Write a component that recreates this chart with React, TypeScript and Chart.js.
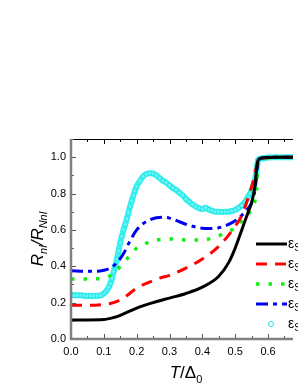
import React, { useEffect, useRef } from "react";
import { Chart, registerables } from "chart.js";

Chart.register(...registerables);

const xTicks = [0, 0.1, 0.2, 0.3, 0.4, 0.5, 0.6];
const yTicks = [0, 0.2, 0.4, 0.6, 0.8, 1.0];

const tBlack = [0, 0.05, 0.1, 0.13, 0.15, 0.2, 0.25, 0.3, 0.35, 0.4, 0.45, 0.48, 0.5, 0.52, 0.54, 0.55, 0.56, 0.565, 0.57, 0.58, 0.62, 0.68];
const rBlack = [0.105, 0.105, 0.107, 0.118, 0.13, 0.17, 0.2, 0.225, 0.25, 0.285, 0.345, 0.42, 0.5, 0.6, 0.7, 0.75, 0.84, 0.93, 0.985, 0.995, 1.0, 1.0];

const tRed = [0, 0.05, 0.1, 0.12, 0.15, 0.175, 0.2, 0.235, 0.27, 0.3, 0.35, 0.4, 0.45, 0.5, 0.52, 0.54, 0.555, 0.565, 0.57, 0.58, 0.62, 0.68];
const rRed = [0.185, 0.185, 0.19, 0.195, 0.215, 0.245, 0.28, 0.31, 0.335, 0.35, 0.39, 0.44, 0.51, 0.62, 0.68, 0.78, 0.87, 0.95, 0.99, 0.995, 1.0, 1.0];

const tGreen = [0, 0.05, 0.1, 0.12, 0.14, 0.16, 0.18, 0.2, 0.22, 0.25, 0.3, 0.35, 0.4, 0.43, 0.46, 0.49, 0.52, 0.55, 0.565, 0.57, 0.58, 0.62, 0.68];
const rGreen = [0.33, 0.33, 0.335, 0.35, 0.38, 0.42, 0.46, 0.5, 0.52, 0.54, 0.55, 0.545, 0.545, 0.555, 0.575, 0.6, 0.65, 0.72, 0.82, 0.97, 0.99, 1.0, 1.0];

const tBlue = [0, 0.05, 0.08, 0.1, 0.12, 0.14, 0.16, 0.18, 0.2, 0.22, 0.24, 0.26, 0.28, 0.3, 0.33, 0.36, 0.39, 0.42, 0.45, 0.48, 0.5, 0.52, 0.54, 0.55, 0.56, 0.565, 0.57, 0.58, 0.62, 0.68];
const rBlue = [0.375, 0.372, 0.372, 0.378, 0.39, 0.42, 0.47, 0.54, 0.6, 0.635, 0.655, 0.667, 0.67, 0.665, 0.645, 0.625, 0.612, 0.608, 0.612, 0.63, 0.65, 0.68, 0.72, 0.75, 0.82, 0.9, 0.98, 0.995, 1.0, 1.0];

const tCyan = [0, 0.01, 0.02, 0.03, 0.04, 0.05, 0.06, 0.07, 0.08, 0.09, 0.1, 0.105, 0.11, 0.115, 0.12, 0.125, 0.13, 0.135, 0.14, 0.145, 0.15, 0.155, 0.16, 0.165, 0.17, 0.175, 0.18, 0.185, 0.19, 0.195, 0.2, 0.21, 0.22, 0.23, 0.24, 0.25, 0.26, 0.27, 0.28, 0.29, 0.3, 0.31, 0.32, 0.33, 0.34, 0.35, 0.36, 0.37, 0.38, 0.39, 0.4, 0.41, 0.42, 0.43, 0.44, 0.45, 0.46, 0.47, 0.48, 0.49, 0.5, 0.51, 0.52, 0.53, 0.54, 0.545, 0.55, 0.555, 0.56, 0.5625, 0.565, 0.5675, 0.57, 0.58, 0.59, 0.6, 0.62, 0.64, 0.66, 0.68];
const rCyan = [0.245, 0.24, 0.24, 0.24, 0.238, 0.237, 0.237, 0.237, 0.238, 0.24, 0.25, 0.258, 0.27, 0.285, 0.305, 0.335, 0.37, 0.405, 0.44, 0.485, 0.53, 0.565, 0.6, 0.63, 0.66, 0.695, 0.73, 0.76, 0.79, 0.815, 0.84, 0.87, 0.895, 0.908, 0.912, 0.91, 0.9, 0.885, 0.87, 0.86, 0.845, 0.83, 0.82, 0.805, 0.79, 0.77, 0.755, 0.74, 0.728, 0.72, 0.715, 0.722, 0.712, 0.705, 0.7, 0.7, 0.698, 0.7, 0.7, 0.705, 0.71, 0.72, 0.735, 0.755, 0.785, 0.8, 0.82, 0.84, 0.87, 0.9, 0.93, 0.96, 0.985, 0.993, 0.996, 0.998, 1.0, 1.0, 1.0, 1.0];

const legendRows = ["black", "red", "green", "blue", "cyan"];

const pts = (t: number[], r: number[]) => t.map((x, i) => ({ x, y: r[i] }));

const FONT = "'Liberation Sans', Arial, sans-serif";

const framePlugin = {
  id: "frame",
  afterDatasetsDraw(chart: any) {
    const { ctx, chartArea } = chart;
    const { left, right, top, bottom } = chartArea;
    const xs = chart.scales.x;
    const ys = chart.scales.y;
    ctx.save();
    ctx.strokeStyle = "#000";
    ctx.lineWidth = 1;
    ctx.beginPath();
    ctx.moveTo(left, top + 0.5);
    ctx.lineTo(right, top + 0.5);
    ctx.stroke();
    for (let v = 0; v <= 0.68; v += 0.05) {
      const px = Math.round(xs.getPixelForValue(v)) + 0.5;
      const major = Math.abs(v * 10 - Math.round(v * 10)) < 1e-6;
      const len = major ? 5 : 3;
      ctx.strokeStyle = "#555";
      ctx.beginPath();
      ctx.moveTo(px, bottom);
      ctx.lineTo(px, bottom - len);
      ctx.stroke();
      ctx.strokeStyle = "#000";
      ctx.beginPath();
      ctx.moveTo(px, top);
      ctx.lineTo(px, top + len);
      ctx.stroke();
    }
    for (let v = 0; v <= 1.1; v += 0.1) {
      const py = Math.round(ys.getPixelForValue(v)) + 0.5;
      const major = Math.round(v * 10) % 2 === 0;
      const len = major ? 5 : 3;
      ctx.strokeStyle = "#555";
      ctx.beginPath();
      ctx.moveTo(left, py);
      ctx.lineTo(left + len, py);
      ctx.stroke();
    }
    ctx.strokeStyle = "#808080";
    ctx.lineWidth = 2.5;
    ctx.beginPath();
    ctx.moveTo(left, top);
    ctx.lineTo(left, bottom + 1);
    ctx.moveTo(left - 1, bottom);
    ctx.lineTo(right, bottom);
    ctx.stroke();

    const ds = chart.data.datasets;
    legendRows.forEach((_, i) => {
      const d = ds[i];
      const y = 244 + i * 20;
      ctx.save();
      if (i < 4) {
        ctx.strokeStyle = d.borderColor;
        ctx.lineWidth = d.borderWidth;
        ctx.setLineDash(d.borderDash || []);
        ctx.beginPath();
        ctx.moveTo(256, y);
        ctx.lineTo(287, y);
        ctx.stroke();
      } else {
        ctx.strokeStyle = "#22e6e6";
        ctx.fillStyle = "#ffffff";
        ctx.lineWidth = 1;
        ctx.beginPath();
        ctx.arc(271, y, 2.5, 0, Math.PI * 2);
        ctx.fill();
        ctx.stroke();
      }
      ctx.restore();
      ctx.fillStyle = "#000";
      ctx.textBaseline = "alphabetic";
      ctx.textAlign = "left";
      ctx.font = `14px ${FONT}`;
      ctx.fillText("\u03b5", 288, y + 4);
      const w = ctx.measureText("\u03b5").width;
      ctx.font = `10px ${FONT}`;
      ctx.fillText("S", 288 + w, y + 7);
    });

    const drawRuns = (runs: { t: string; f: string; dy: number }[], cx: number, cy: number, rot: number) => {
      ctx.save();
      ctx.translate(cx, cy);
      ctx.rotate(rot);
      let total = 0;
      runs.forEach((r) => {
        ctx.font = r.f;
        total += ctx.measureText(r.t).width;
      });
      let x = -total / 2;
      ctx.fillStyle = "#000";
      ctx.textAlign = "left";
      ctx.textBaseline = "alphabetic";
      runs.forEach((r) => {
        ctx.font = r.f;
        ctx.fillText(r.t, x, r.dy);
        x += ctx.measureText(r.t).width;
      });
      ctx.restore();
    };
    drawRuns(
      [
        { t: "R", f: `italic 17px ${FONT}`, dy: 0 },
        { t: "nl", f: `italic 11px ${FONT}`, dy: 4 },
        { t: "/R", f: `italic 17px ${FONT}`, dy: 0 },
        { t: "Nnl", f: `italic 11px ${FONT}`, dy: 4 },
      ],
      43,
      (top + bottom) / 2,
      -Math.PI / 2
    );
    drawRuns(
      [
        { t: "T", f: `italic 17px ${FONT}`, dy: 0 },
        { t: "/\u0394", f: `17px ${FONT}`, dy: 0 },
        { t: "0", f: `11px ${FONT}`, dy: 5 },
      ],
      186,
      378,
      0
    );
    ctx.restore();
  },
};

export default function App() {
  const ref = useRef<HTMLCanvasElement | null>(null);
  useEffect(() => {
    if (!ref.current) return;
    const chart = new Chart(ref.current, {
      type: "scatter",
      data: {
        datasets: [
          {
            data: pts(tBlack, rBlack),
            showLine: true,
            borderColor: "#000000",
            borderWidth: 3,
            pointRadius: 0,
            cubicInterpolationMode: "monotone",
          },
          {
            data: pts(tRed, rRed),
            showLine: true,
            borderColor: "#ff0000",
            borderWidth: 3,
            borderDash: [11, 8],
            pointRadius: 0,
            cubicInterpolationMode: "monotone",
          },
          {
            data: pts(tGreen, rGreen),
            showLine: true,
            borderColor: "#11ee11",
            borderWidth: 3.5,
            borderDash: [3.5, 9],
            pointRadius: 0,
            cubicInterpolationMode: "monotone",
          },
          {
            data: pts(tBlue, rBlue),
            showLine: true,
            borderColor: "#0000ee",
            borderWidth: 3,
            borderDash: [12, 5, 4, 5],
            pointRadius: 0,
            cubicInterpolationMode: "monotone",
          },
          {
            data: pts(tCyan, rCyan),
            showLine: true,
            borderColor: "#3cf2f2",
            borderWidth: 6,
            pointRadius: 2.2,
            pointBorderWidth: 1,
            pointBorderColor: "#1ee8e8",
            pointBackgroundColor: "#6ff4f4",
            cubicInterpolationMode: "monotone",
          },
        ] as any,
      },
      options: {
        animation: false,
        responsive: false,
        events: [],
        layout: { padding: { top: 139, left: 0, right: 0, bottom: 0 } },
        plugins: { legend: { display: false }, tooltip: { enabled: false }, title: { display: false } },
        scales: {
          x: {
            type: "linear",
            min: 0,
            max: 0.676,
            grid: { display: false, drawTicks: false },
            border: { display: false },
            afterBuildTicks: (s: any) => {
              s.ticks = xTicks.map((v) => ({ value: v }));
            },
            afterFit: (s: any) => {
              s.height = 46;
            },
            ticks: {
              padding: 6,
              color: "#000",
              font: { family: FONT, size: 11 },
              maxRotation: 0,
              autoSkip: false,
              callback: (v: any) => Number(v).toFixed(1),
            },
          },
          y: {
            type: "linear",
            min: 0,
            max: 1.1,
            grid: { display: false, drawTicks: false },
            border: { display: false },
            afterBuildTicks: (s: any) => {
              s.ticks = yTicks.map((v) => ({ value: v }));
            },
            afterFit: (s: any) => {
              s.width = 71;
            },
            ticks: {
              padding: 5,
              color: "#000",
              font: { family: FONT, size: 11 },
              autoSkip: false,
              callback: (v: any) => Number(v).toFixed(1),
            },
          },
        },
      },
      plugins: [framePlugin],
    });
    return () => chart.destroy();
  }, []);
  return (
    <div style={{ position: "absolute", left: 0, top: 0, width: 298, height: 385, background: "#fff" }}>
      <canvas ref={ref} width={298} height={385} style={{ display: "block" }} />
    </div>
  );
}
